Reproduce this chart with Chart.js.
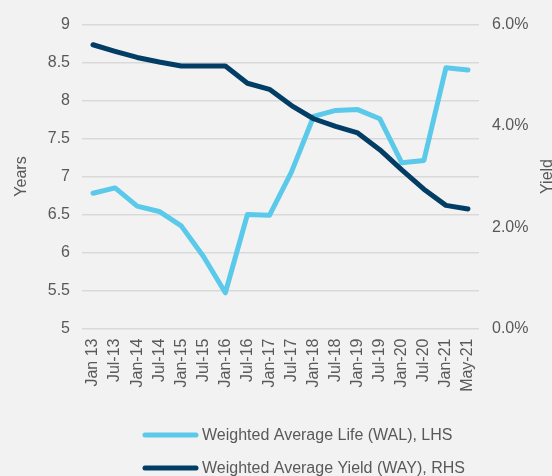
<!DOCTYPE html>
<html>
<head>
<meta charset="utf-8">
<script src="https://cdn.jsdelivr.net/npm/chart.js@4"></script>
<style>
  body { margin: 0; background: #f2f2f2; }
  canvas { display: block; }
</style>
</head>
<body>
<canvas id="walChart" width="552" height="476"></canvas>
<script>
let months = ["Jan 13", "Jul-13", "Jan-14", "Jul-14", "Jan-15", "Jul-15", "Jan-16", "Jul-16", "Jan-17",
     "Jul-17", "Jan-18", "Jul-18", "Jan-19", "Jul-19", "Jan-20", "Jul-20", "Jan-21", "May-21"]; //x labels
let wal = [6.78, 6.85, 6.61, 6.54, 6.35, 5.95, 5.47, 6.5, 6.49, 7.06, 7.79, 7.87, 7.88, 7.76, 7.18, 7.21, 8.43, 8.4]; //years, LHS
let way = [5.6, 5.47, 5.35, 5.26, 5.18, 5.18, 5.18, 4.84, 4.72, 4.4, 4.14, 3.99, 3.86, 3.53, 3.13, 2.75, 2.43, 2.36]; //yield %, RHS
let walLabel = "Weighted Average Life (WAL), LHS";
let wayLabel = "Weighted Average Yield (WAY), RHS";

const grey = "#595959";
const font = { family: "'Liberation Sans', Arial, sans-serif", size: 16 };

//legend stacked on the left + right axis title reading upwards
const extras = {
     id: "extras",
     afterDraw(chart) {
          const ctx = chart.ctx;
          ctx.save();
          ctx.font = "16px 'Liberation Sans', Arial, sans-serif";
          ctx.fillStyle = grey;
          ctx.textBaseline = "middle";
          chart.data.datasets.forEach((ds, i) => {
               const y = 435 + i * 33;
               ctx.strokeStyle = ds.borderColor;
               ctx.lineWidth = 5;
               ctx.lineCap = "round";
               ctx.beginPath();
               ctx.moveTo(145, y);
               ctx.lineTo(196, y);
               ctx.stroke();
               ctx.fillText(ds.label, 202, y + 1);
          });
          ctx.translate(548, chart.chartArea.top + chart.chartArea.height / 2);
          ctx.rotate(-Math.PI / 2);
          ctx.textAlign = "center";
          ctx.fillText("Yield", 0, 0);
          ctx.restore();
     },
};

new Chart("walChart", {
     type: "line",
     data: {
          labels: months,
          datasets: [
               {
                    label: walLabel,
                    data: wal,
                    yAxisID: "y",
                    borderColor: "#5bc9ea",
                    backgroundColor: "#5bc9ea",
                    borderWidth: 5,
                    order: 2,
               },
               {
                    label: wayLabel,
                    data: way,
                    yAxisID: "y2",
                    borderColor: "#023d66",
                    backgroundColor: "#023d66",
                    borderWidth: 5,
                    order: 1,
               },
          ],
     },
     options: {
          responsive: false,
          animation: false,
          layout: { padding: { top: 24.5, bottom: 0, left: 0, right: 0 } },
          elements: {
               point: { radius: 0 },
               line: { tension: 0, borderCapStyle: "round", borderJoinStyle: "round" },
          },
          plugins: {
               legend: { display: false },
               tooltip: { enabled: false },
          },
          scales: {
               x: {
                    offset: true,
                    grid: { display: false, drawTicks: false },
                    border: { display: false },
                    ticks: { font: font, color: grey, minRotation: 90, maxRotation: 90, padding: 10, autoSkip: false },
                    afterFit: (s) => { s.height = 147.5; },
               },
               y: {
                    position: "left",
                    min: 5,
                    max: 9,
                    grid: { color: "#d9d9d9", lineWidth: 1.5, drawTicks: false },
                    border: { display: false },
                    ticks: { stepSize: 0.5, font: font, color: grey, padding: 12, callback: (v) => String(v) },
                    title: { display: true, text: "Years", font: font, color: grey, padding: { top: 12 } },
                    afterFit: (s) => { s.width = 82; },
               },
               y2: {
                    position: "right",
                    min: 0,
                    max: 6,
                    grid: { display: false, drawTicks: false },
                    border: { display: false },
                    ticks: { stepSize: 2, font: font, color: grey, padding: 13, callback: (v) => v.toFixed(1) + "%" },
                    afterFit: (s) => { s.width = 73; },
               },
          },
     },
     plugins: [extras],
});
</script>
</body>
</html>
